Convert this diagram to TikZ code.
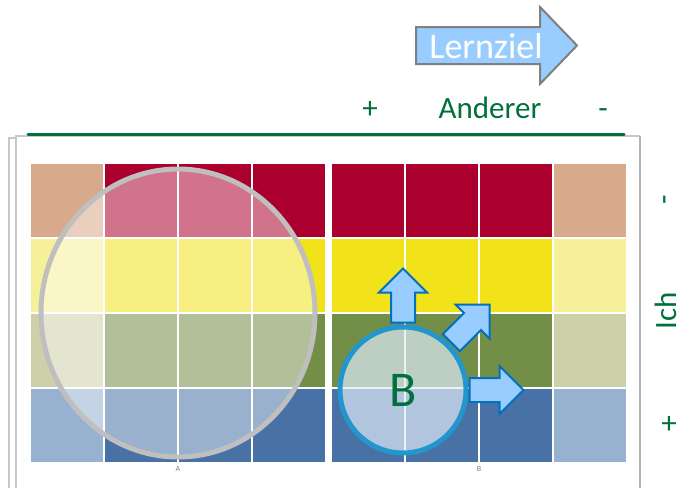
\documentclass[tikz,border=0pt]{standalone}
\usepackage{fontspec}
\setmainfont{Carlito}
\definecolor{zellrot}{RGB}{171,0,45}
\definecolor{zellbeige}{RGB}{217,169,140}
\definecolor{zellgelb}{RGB}{242,226,26}
\definecolor{zellgelbhell}{RGB}{247,240,155}
\definecolor{zelloliv}{RGB}{114,142,71}
\definecolor{zellolivhell}{RGB}{205,208,169}
\definecolor{zellblau}{RGB}{72,114,165}
\definecolor{zellblauhell}{RGB}{151,177,209}
\definecolor{pfeilblau}{RGB}{153,204,255}
\definecolor{randblau}{RGB}{0,112,192}
\definecolor{ringblau}{RGB}{35,150,206}
\definecolor{kreisfuell}{RGB}{222,235,247}
\definecolor{textgruen}{RGB}{0,112,60}
\definecolor{rahmengrau}{RGB}{200,200,200}

\begin{document}
\begin{tikzpicture}[x=1pt,y=-1pt,
  achse/.style={text=textgruen, font=\fontsize{31}{31}\selectfont, inner sep=0pt},
  klein/.style={text=gray, font=\fontsize{8}{8}\selectfont, inner sep=0pt},
  blockpfeil/.pic={
    \draw[fill=pfeilblau, draw=randblau, line width=2pt, line join=miter]
      (0,-12) -- (30,-12) -- (30,-24) -- (54,0) -- (30,24) -- (30,12) -- (0,12) -- cycle;
  }]
  \useasboundingbox (0,0) rectangle (682,488);
  % Card frame
  \draw[rahmengrau, line width=1.2pt] (9,488) -- (9,138) -- (16,138);
  \draw[rahmengrau, line width=1.2pt] (16,488) -- (16,136) -- (640,136);
  \draw[rahmengrau!90!black, line width=2pt] (640,136) -- (640,488);
  \draw[textgruen, line width=3pt, line cap=round] (28,134) -- (624,134);
  % Grid A and grid B
  \foreach \j/\voll/\hell in {0/zellrot/zellbeige, 1/zellgelb/zellgelbhell,
                              2/zelloliv/zellolivhell, 3/zellblau/zellblauhell} {
    \fill[\hell] (31,{164+75*\j}) rectangle ++(72,73);
    \foreach \i in {1,2,3}
      \fill[\voll] ({31+74*\i},{164+75*\j}) rectangle ++(72,73);
    \foreach \i in {0,1,2}
      \fill[\voll] ({332+74*\i},{164+75*\j}) rectangle ++(72,73);
    \fill[\hell] (554,{164+75*\j}) rectangle ++(72,73);
  }
  \node[klein, anchor=north] (labelA) at (178,466) {A};
  \node[klein, anchor=north] (labelB) at (479,466) {B};
  % Circle A
  \draw[draw=gray!50, line width=5pt, fill=white, fill opacity=0.45]
    (178,313) ellipse [x radius=137, y radius=144];
  % Circle B with its arrows
  \node[circle, draw=ringblau, line width=5pt, fill=kreisfuell, fill opacity=0.7,
        text opacity=1, minimum size=126pt, inner sep=0pt, text=textgruen,
        font=\fontsize{50}{50}\selectfont] (kreisB) at (403,390) {B};
  \pic[rotate=90] at ([yshift=2pt]kreisB.north) {blockpfeil};
  \pic[rotate=45] at ([shift={(2pt,1pt)}]kreisB.45) {blockpfeil};
  \pic at ([xshift=1pt]kreisB.east) {blockpfeil};
  % Goal arrow
  \draw[fill=pfeilblau, draw=gray, line width=2pt, line join=miter]
    (416,27) -- (540,27) -- (540,7) -- (577,45.5) -- (540,84) -- (540,64) -- (416,64) -- cycle;
  \node[text=white, font=\fontsize{36}{36}\selectfont, inner sep=0pt, anchor=base]
    (ziel) at (486,58) {Lernziel};
  % Axis labels
  \node[achse, anchor=base] (anderer) at (490,118) {Anderer};
  \node[achse, anchor=base] (plusA) at (370,118) {+};
  \node[achse, anchor=base] (minusA) at (603,118) {-};
  \node[achse, rotate=90] (ich) at (666,311) {Ich};
  \node[achse, rotate=90] (minusI) at (669,200) {-};
  \node[achse] (plusI) at (669,425) {+};
\end{tikzpicture}
\end{document}
